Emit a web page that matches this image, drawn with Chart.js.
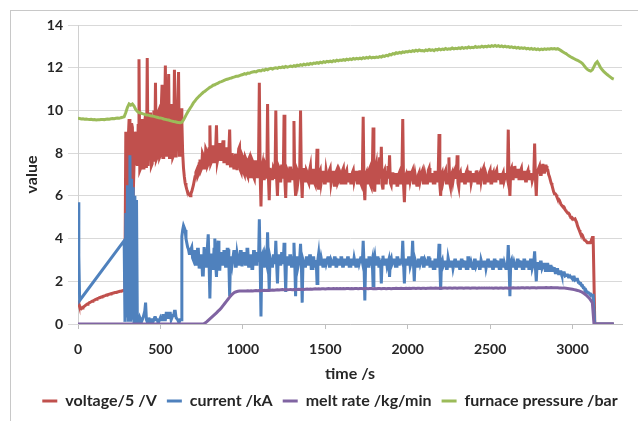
<!DOCTYPE html>
<html>
<head>
<meta charset="utf-8">
<script src="https://cdn.jsdelivr.net/npm/chart.js@4.4.1/dist/chart.umd.min.js"></script>
<style>
html, body { margin: 0; padding: 0; background: #fff; overflow: hidden; }
#frame { position: absolute; left: 10px; top: 10px; width: 700px; height: 500px; border: 1px solid #c8c8c8; }
#furnaceCanvas { position: absolute; left: 0; top: 0; }
</style>
</head>
<body>
<div id="frame"></div>
<canvas id="furnaceCanvas" width="638" height="421"></canvas>
<script>
// voltage and current are logged every 5 s, melt rate and pressure every 10 s
var fastStep = 5;
var slowStep = 10;

var seriesNames = ["voltage/5 /V", "current /kA", "melt rate /kg/min", "furnace pressure /bar"];
var seriesColors = ["#c0504d", "#4f81bd", "#8064a2", "#9bbb59"];
var xTicks = [0, 500, 1000, 1500, 2000, 2500, 3000];
var yTicks = [0, 2, 4, 6, 8, 10, 12, 14];

// one row = 100 s
var voltageData = [
    1.1, 0.95, 0.85, 0.76, 0.72, 0.75, 0.78, 0.81, 0.84, 0.87, 0.9, 0.92, 0.95, 0.97, 1.0, 1.02, 1.04, 1.06, 1.08, 1.1,
    1.12, 1.14, 1.16, 1.18, 1.2, 1.21, 1.23, 1.24, 1.26, 1.27, 1.29, 1.3, 1.32, 1.33, 1.35, 1.36, 1.37, 1.38, 1.4, 1.41,
    1.42, 1.43, 1.44, 1.45, 1.46, 1.47, 1.48, 1.49, 1.5, 1.51, 1.52, 1.53, 1.54, 1.55, 1.56, 1.57, 1.58, 2.5, 9.0, 5.0,
    3.5, 8.7, 9.6, 2.0, 4.0, 9.4, 9.2, 6.0, 7.5, 9.0, 8.8, 8.2, 7.4, 9.3, 12.4, 7.2, 7.3, 9.0, 9.6, 7.3,
    7.4, 9.5, 9.8, 7.3, 12.45, 7.4, 7.4, 9.6, 9.9, 7.4, 7.5, 9.7, 10.0, 7.6, 11.3, 7.7, 7.8, 9.9, 10.0, 7.8,
    7.9, 10.1, 11.2, 7.8, 7.8, 9.8, 12.1, 7.9, 7.9, 10.0, 11.7, 7.8, 7.8, 9.9, 10.3, 7.8, 7.9, 11.9, 9.6, 7.8,
    7.8, 10.0, 11.8, 7.9, 7.9, 10.1, 9.5, 8.0, 7.3, 6.9, 6.6, 6.45, 6.3, 6.2, 6.1, 6.05, 6.0, 6.1, 6.2, 6.35,
    6.5, 6.7, 6.9, 7.1, 7.2, 6.9, 7.0, 7.5, 7.7, 7.2, 7.3, 8.0, 7.9, 7.3, 7.4, 8.2, 8.1, 7.4, 7.5, 8.2,
    9.3, 7.5, 7.6, 8.3, 8.3, 7.6, 7.7, 8.2, 9.3, 7.6, 7.8, 8.4, 8.4, 7.7, 7.7, 8.3, 8.6, 7.6, 7.6, 8.2,
    8.2, 7.5, 7.5, 8.1, 9.1, 7.4, 7.4, 8.0, 8.0, 7.3, 7.3, 7.9, 7.9, 7.2, 7.2, 8.2, 8.3, 7.2, 7.1, 7.9,
    7.8, 7.1, 7.0, 7.8, 7.7, 7.0, 6.9, 7.7, 7.8, 6.9, 6.9, 7.7, 7.6, 6.9, 6.8, 7.6, 7.6, 6.9, 6.9, 7.5,
    11.3, 7.0, 5.5, 7.3, 7.5, 6.8, 6.8, 7.5, 7.4, 6.8, 10.3, 6.9, 5.8, 7.3, 7.3, 6.8, 6.8, 7.3, 7.2, 6.8,
    10.0, 6.8, 6.0, 7.4, 7.3, 6.7, 6.7, 7.4, 7.4, 6.8, 9.8, 6.7, 5.9, 7.3, 7.2, 6.7, 6.7, 7.3, 7.3, 6.8,
    6.8, 7.2, 9.5, 6.7, 6.0, 7.3, 7.2, 6.7, 6.7, 7.3, 10.0, 6.8, 5.9, 7.2, 7.3, 6.7, 6.7, 7.2, 7.1, 6.7,
    6.6, 7.2, 7.4, 6.6, 6.6, 7.2, 7.2, 6.6, 6.5, 7.1, 8.2, 6.6, 6.3, 7.1, 7.2, 6.6, 6.6, 7.1, 7.1, 6.6,
    6.6, 7.2, 7.2, 6.7, 6.7, 7.2, 7.3, 6.6, 6.6, 7.1, 7.1, 6.5, 6.5, 7.1, 7.2, 6.6, 6.7, 7.2, 7.1, 6.6,
    6.6, 7.2, 7.3, 6.6, 6.6, 7.1, 7.2, 6.7, 6.7, 7.0, 7.0, 6.6, 6.6, 7.1, 7.2, 6.7, 6.7, 7.1, 7.1, 6.6,
    6.6, 7.1, 7.2, 6.6, 6.5, 7.0, 9.7, 6.5, 5.8, 7.0, 7.1, 6.6, 6.6, 7.2, 7.3, 6.5, 6.4, 7.0, 9.2, 6.5,
    6.2, 7.3, 7.5, 6.6, 6.6, 7.3, 7.8, 6.8, 8.3, 6.5, 6.3, 7.1, 7.2, 6.6, 6.6, 7.1, 7.4, 6.8, 7.9, 6.6,
    6.5, 7.0, 7.1, 6.6, 6.6, 7.0, 7.0, 6.5, 6.5, 7.0, 7.1, 6.6, 6.6, 7.1, 9.6, 6.5, 5.7, 6.9, 7.0, 6.6,
    6.6, 7.1, 7.1, 6.7, 6.7, 7.1, 7.2, 6.6, 6.6, 7.0, 7.0, 6.5, 6.5, 7.0, 7.1, 6.7, 6.7, 7.1, 7.2, 6.6,
    6.6, 7.0, 7.0, 6.6, 6.6, 7.2, 7.3, 6.7, 6.7, 7.0, 7.0, 6.6, 6.6, 7.1, 7.1, 6.7, 6.7, 7.0, 8.9, 6.5,
    6.0, 7.0, 7.1, 6.7, 6.7, 7.1, 7.2, 6.6, 6.6, 7.0, 7.8, 6.6, 6.4, 7.0, 7.1, 6.7, 6.7, 7.2, 7.3, 6.8,
    7.9, 6.6, 6.4, 7.0, 7.1, 6.7, 6.7, 7.0, 7.0, 6.6, 6.6, 7.1, 7.2, 6.7, 6.7, 7.1, 7.1, 6.6, 6.6, 7.0,
    7.0, 6.7, 6.7, 7.1, 7.2, 6.6, 6.6, 7.0, 7.1, 6.7, 6.7, 7.2, 7.3, 6.6, 6.6, 7.0, 7.0, 6.7, 6.7, 7.1,
    7.2, 6.6, 6.6, 7.0, 7.1, 6.7, 6.7, 7.1, 7.2, 6.8, 6.8, 7.0, 7.0, 6.6, 6.6, 7.0, 7.1, 6.7, 6.7, 7.0,
    7.0, 6.8, 9.1, 6.7, 6.0, 7.2, 7.3, 6.8, 6.8, 7.3, 7.4, 6.9, 6.9, 7.2, 7.2, 6.8, 6.8, 7.2, 7.3, 6.8,
    6.8, 7.1, 7.1, 6.7, 6.7, 7.1, 7.2, 6.8, 6.8, 7.0, 7.0, 6.7, 6.7, 7.0, 8.45, 6.8, 6.0, 7.1, 7.2, 7.3,
    7.4, 7.0, 7.0, 7.4, 7.5, 7.1, 7.1, 7.4, 7.4, 7.2, 7.2, 7.0, 6.9, 6.75, 6.6, 6.5, 6.35, 6.2, 6.1, 6.1,
    6.05, 5.95, 5.85, 5.85, 5.8, 5.7, 5.6, 5.55, 5.5, 5.5, 5.45, 5.35, 5.3, 5.25, 5.2, 5.2, 5.15, 5.05, 5.0, 5.0,
    4.95, 4.9, 4.9, 4.92, 4.92, 4.75, 4.6, 4.5, 4.4, 4.3, 4.2, 4.2, 4.15, 4.05, 3.95, 3.92, 3.9, 3.85, 3.8, 3.8,
    3.8, 3.82, 3.82, 3.95, 4.05, 4.05, 4.05, 0, 0, 0, 0, 0, 0, 0, 0, 0, 0, 0, 0, 0,
    0, 0, 0, 0, 0, 0, 0, 0, 0, 0, 0
];

// current logger dropped out between 15 s and 275 s
var currentData = [
    5.7, 3.2, 1.1, null, null, null, null, null, null, null, null, null, null, null, null, null, null, null, null, null,
    null, null, null, null, null, null, null, null, null, null, null, null, null, null, null, null, null, null, null, null,
    null, null, null, null, null, null, null, null, null, null, null, null, null, null, null, null, 3.9, 0.1, 5.2, 0.3,
    6.5, 0.1, 6.2, 7.9, 0.1, 6.8, 0.2, 6.4, 0.1, 6.0, 0.2, 5.8, 0.1, 0.2, 0.1, 0.3, 0.2, 0.1, 0.2, 0.3,
    0.3, 0.6, 1.0, 0.2, 0.1, 0.2, 0.3, 0.1, 0.1, 0.2, 0.2, 0.1, 0.1, 0.3, 0.3, 0.2, 0.2, 0.1, 0.1, 0.2,
    0.3, 0.2, 0.2, 0.4, 0.4, 0.2, 0.2, 0.5, 0.5, 0.3, 0.3, 0.5, 0.5, 0.2, 0.2, 0.4, 0.4, 0.6, 0.6, 0.3,
    0.3, 0.2, 0.1, 0.1, 0.2, 0.2, 4.1, 4.4, 4.6, 4.5, 4.4, 4.0, 3.8, 3.6, 3.5, 3.3, 3.3, 3.5, 3.6, 3.1,
    3.0, 3.4, 3.4, 2.8, 2.8, 3.5, 3.5, 2.6, 2.6, 3.2, 3.2, 2.3, 2.3, 3.6, 3.6, 2.7, 2.7, 3.6, 4.2, 2.9,
    1.2, 3.0, 3.3, 2.6, 2.6, 3.5, 4.0, 2.8, 2.2, 3.2, 3.9, 2.8, 2.5, 3.3, 3.3, 2.8, 2.8, 3.4, 3.4, 2.7,
    2.7, 3.5, 3.5, 2.9, 1.3, 3.1, 3.1, 2.8, 2.8, 3.4, 3.4, 2.7, 2.7, 3.3, 3.3, 2.8, 2.8, 3.4, 3.4, 2.7,
    2.7, 3.3, 3.3, 2.8, 2.8, 3.5, 3.5, 2.7, 2.7, 3.2, 3.2, 2.6, 2.6, 3.4, 3.4, 2.8, 2.8, 3.3, 3.3, 2.9,
    4.9, 2.8, 0.35, 3.2, 3.3, 2.7, 2.7, 3.2, 3.2, 2.8, 4.3, 2.8, 1.6, 3.1, 3.1, 2.7, 2.7, 3.2, 3.2, 2.8,
    3.9, 2.8, 1.9, 3.2, 3.2, 2.8, 2.8, 3.3, 3.3, 2.8, 3.8, 2.8, 1.5, 3.1, 3.1, 2.8, 2.8, 3.2, 3.2, 2.7,
    2.7, 3.1, 3.8, 2.8, 1.3, 3.1, 3.1, 2.7, 2.7, 3.1, 3.75, 2.8, 1.0, 3.0, 3.0, 2.7, 2.7, 3.1, 3.1, 2.8,
    2.8, 3.2, 3.2, 2.6, 2.6, 3.1, 3.1, 2.7, 2.7, 3.0, 1.9, 3.0, 3.3, 2.8, 2.8, 3.1, 3.1, 2.7, 2.7, 3.0,
    3.0, 2.8, 2.8, 3.1, 3.1, 2.7, 2.7, 3.0, 3.0, 2.8, 2.8, 3.1, 3.1, 2.7, 2.7, 3.0, 3.0, 2.8, 2.8, 3.1,
    3.1, 2.7, 2.7, 3.0, 3.0, 2.8, 2.8, 3.1, 3.1, 2.7, 2.7, 3.0, 3.0, 2.8, 2.8, 3.1, 3.1, 2.7, 2.7, 3.0,
    3.0, 2.8, 2.8, 3.1, 3.1, 2.9, 3.9, 2.8, 1.1, 3.0, 3.0, 2.7, 2.7, 3.1, 3.1, 2.8, 2.8, 3.0, 1.8, 3.0,
    3.2, 2.8, 2.8, 3.1, 3.1, 2.7, 2.7, 3.0, 1.9, 3.0, 3.2, 2.8, 2.8, 3.0, 3.0, 2.7, 2.7, 3.0, 2.2, 3.0,
    3.1, 2.8, 2.8, 3.0, 3.0, 2.7, 2.7, 3.1, 3.1, 2.8, 2.8, 3.0, 3.0, 2.9, 3.9, 2.8, 1.9, 3.0, 3.0, 2.8,
    2.8, 3.1, 3.1, 2.7, 2.7, 3.0, 3.9, 2.8, 2.0, 3.0, 3.0, 2.7, 2.7, 3.0, 3.0, 2.8, 2.8, 3.1, 3.1, 2.7,
    2.7, 3.0, 3.0, 2.8, 2.8, 3.1, 3.1, 2.7, 2.7, 2.9, 2.9, 2.6, 2.6, 3.0, 3.0, 2.7, 2.7, 2.9, 3.75, 2.7,
    1.6, 2.9, 3.0, 2.7, 2.7, 2.9, 2.9, 2.6, 2.6, 3.1, 3.1, 2.7, 2.7, 2.9, 2.9, 2.6, 2.6, 3.0, 3.0, 2.7,
    2.7, 2.9, 2.9, 2.6, 2.6, 3.0, 3.0, 2.7, 2.7, 2.9, 2.9, 2.6, 2.6, 3.1, 3.1, 2.7, 2.7, 2.9, 2.9, 2.6,
    2.6, 3.0, 3.0, 2.7, 2.7, 2.9, 2.9, 2.6, 2.6, 3.0, 3.0, 2.7, 2.7, 2.9, 2.9, 2.6, 2.6, 3.0, 3.0, 2.7,
    2.7, 2.9, 2.9, 2.6, 2.6, 3.0, 3.0, 2.7, 2.7, 2.9, 2.9, 2.6, 2.6, 3.0, 3.0, 2.7, 2.7, 2.9, 2.9, 2.6,
    2.6, 2.8, 3.7, 2.7, 1.3, 2.9, 3.0, 2.7, 2.7, 2.9, 2.9, 2.6, 2.6, 3.0, 3.0, 2.7, 2.7, 2.9, 2.9, 2.6,
    2.6, 3.0, 3.0, 2.7, 2.7, 2.9, 2.9, 2.6, 2.6, 3.0, 3.0, 2.6, 2.6, 2.9, 3.4, 2.6, 2.0, 2.8, 2.9, 2.6,
    2.6, 2.9, 2.9, 2.6, 2.6, 2.8, 2.8, 2.5, 2.5, 2.8, 2.8, 2.5, 2.5, 2.7, 2.7, 2.5, 2.5, 2.6, 2.6, 2.4,
    2.4, 2.55, 2.55, 2.35, 2.35, 2.45, 2.45, 2.3, 2.3, 2.4, 2.4, 2.25, 2.25, 2.3, 2.3, 2.2, 2.2, 2.25, 2.25, 2.15,
    2.1, 2.2, 2.2, 2.05, 2.05, 2.1, 2.1, 1.95, 1.95, 1.9, 1.9, 1.8, 1.8, 1.7, 1.7, 1.6, 1.6, 1.5, 1.5, 1.45,
    1.45, 1.4, 1.4, 1.35, 1.35, 1.35, 1.35, 0, 0, 0, 0, 0, 0, 0, 0, 0, 0, 0, 0, 0,
    0, 0, 0, 0, 0, 0, 0, 0, 0, 0, 0
];

// one row = 100 s
var meltRateData = [
    0, 0, 0, 0, 0, 0, 0, 0, 0, 0,
    0, 0, 0, 0, 0, 0, 0, 0, 0, 0,
    0, 0, 0, 0, 0, 0, 0, 0, 0, 0,
    0, 0, 0, 0, 0, 0, 0, 0, 0, 0,
    0, 0, 0, 0, 0, 0, 0, 0, 0, 0,
    0, 0, 0, 0, 0, 0, 0, 0, 0, 0,
    0, 0, 0, 0, 0, 0, 0, 0, 0, 0,
    0, 0, 0, 0, 0, 0, 0, 0.04, 0.1, 0.17,
    0.24, 0.31, 0.38, 0.45, 0.52, 0.6, 0.67, 0.76, 0.86, 0.96,
    1.06, 1.16, 1.26, 1.35, 1.42, 1.48, 1.51, 1.53, 1.54, 1.54,
    1.55, 1.54, 1.55, 1.56, 1.55, 1.56, 1.55, 1.56, 1.57, 1.56,
    1.57, 1.56, 1.57, 1.58, 1.57, 1.58, 1.57, 1.58, 1.59, 1.58,
    1.59, 1.6, 1.59, 1.6, 1.61, 1.6, 1.61, 1.6, 1.61, 1.62,
    1.61, 1.62, 1.61, 1.62, 1.63, 1.62, 1.63, 1.62, 1.63, 1.64,
    1.63, 1.64, 1.63, 1.64, 1.65, 1.64, 1.65, 1.64, 1.65, 1.65,
    1.64, 1.65, 1.66, 1.65, 1.65, 1.66, 1.65, 1.66, 1.65, 1.66,
    1.65, 1.66, 1.65, 1.66, 1.66, 1.65, 1.66, 1.65, 1.66, 1.66,
    1.65, 1.66, 1.66, 1.65, 1.66, 1.66, 1.65, 1.66, 1.66, 1.65,
    1.66, 1.65, 1.66, 1.66, 1.65, 1.66, 1.66, 1.65, 1.66, 1.66,
    1.65, 1.66, 1.66, 1.67, 1.66, 1.66, 1.67, 1.66, 1.66, 1.67,
    1.66, 1.67, 1.66, 1.67, 1.67, 1.66, 1.67, 1.67, 1.66, 1.67,
    1.67, 1.66, 1.67, 1.67, 1.68, 1.67, 1.67, 1.68, 1.67, 1.67,
    1.68, 1.67, 1.68, 1.68, 1.67, 1.68, 1.68, 1.67, 1.68, 1.68,
    1.67, 1.68, 1.68, 1.68, 1.67, 1.68, 1.68, 1.68, 1.67, 1.68,
    1.68, 1.68, 1.67, 1.68, 1.68, 1.69, 1.68, 1.68, 1.69, 1.68,
    1.68, 1.69, 1.68, 1.69, 1.69, 1.68, 1.69, 1.69, 1.68, 1.69,
    1.69, 1.68, 1.69, 1.69, 1.7, 1.69, 1.69, 1.7, 1.69, 1.7,
    1.7, 1.69, 1.7, 1.7, 1.69, 1.7, 1.7, 1.7, 1.69, 1.7,
    1.7, 1.7, 1.7, 1.7, 1.71, 1.7, 1.7, 1.71, 1.7, 1.7,
    1.7, 1.7, 1.69, 1.69, 1.68, 1.68, 1.67, 1.66, 1.65, 1.64,
    1.63, 1.61, 1.59, 1.57, 1.55, 1.52, 1.48, 1.43, 1.37, 1.3,
    1.22, 1.12, 1.0, 0, 0, 0, 0, 0, 0, 0,
    0, 0, 0, 0, 0, 0
];

var pressureData = [
    9.63, 9.62, 9.6, 9.61, 9.59, 9.6, 9.58, 9.57, 9.58, 9.56,
    9.57, 9.55, 9.56, 9.56, 9.57, 9.58, 9.57, 9.59, 9.6, 9.59,
    9.61, 9.62, 9.61, 9.63, 9.64, 9.63, 9.66, 9.68, 9.7, 9.9,
    10.15, 10.3, 10.25, 10.3, 10.2, 10.05, 9.95, 9.9, 9.88, 9.85,
    9.83, 9.8, 9.79, 9.77, 9.75, 9.74, 9.72, 9.7, 9.68, 9.66,
    9.65, 9.63, 9.6, 9.58, 9.56, 9.55, 9.52, 9.5, 9.48, 9.47,
    9.45, 9.43, 9.42, 9.45, 9.55, 9.7, 9.85, 9.98, 10.1, 10.22,
    10.35, 10.45, 10.55, 10.63, 10.7, 10.78, 10.85, 10.9, 10.96, 11.02,
    11.08, 11.12, 11.18, 11.2, 11.25, 11.28, 11.33, 11.35, 11.38, 11.42,
    11.45, 11.47, 11.5, 11.52, 11.55, 11.57, 11.6, 11.6, 11.63, 11.66,
    11.68, 11.72, 11.7, 11.75, 11.74, 11.78, 11.8, 11.82, 11.8, 11.85,
    11.87, 11.85, 11.9, 11.88, 11.93, 11.9, 11.95, 11.97, 11.94, 11.98,
    12.0, 11.97, 12.02, 12.0, 12.04, 12.01, 12.06, 12.03, 12.05, 12.08,
    12.05, 12.1, 12.07, 12.12, 12.1, 12.14, 12.11, 12.16, 12.13, 12.18,
    12.15, 12.2, 12.17, 12.22, 12.2, 12.24, 12.21, 12.26, 12.23, 12.28,
    12.25, 12.3, 12.27, 12.31, 12.28, 12.33, 12.3, 12.35, 12.32, 12.36,
    12.34, 12.38, 12.35, 12.4, 12.37, 12.41, 12.38, 12.43, 12.4, 12.44,
    12.41, 12.45, 12.42, 12.47, 12.44, 12.48, 12.45, 12.5, 12.46, 12.49,
    12.47, 12.5, 12.48, 12.52, 12.5, 12.55, 12.53, 12.58, 12.56, 12.62,
    12.6, 12.66, 12.64, 12.7, 12.67, 12.72, 12.69, 12.74, 12.72, 12.76,
    12.74, 12.78, 12.75, 12.8, 12.77, 12.82, 12.78, 12.83, 12.8, 12.81,
    12.78, 12.83, 12.8, 12.85, 12.81, 12.84, 12.8, 12.86, 12.83, 12.88,
    12.84, 12.87, 12.85, 12.9, 12.86, 12.89, 12.87, 12.92, 12.88, 12.91,
    12.89, 12.93, 12.9, 12.95, 12.91, 12.94, 12.92, 12.97, 12.93, 12.96,
    12.94, 12.99, 12.95, 12.98, 12.96, 13.01, 12.97, 13.0, 12.98, 13.02,
    12.99, 13.03, 13.0, 13.04, 13.0, 13.03, 12.99, 13.02, 12.98, 13.01,
    12.97, 12.99, 12.95, 12.98, 12.94, 12.96, 12.92, 12.95, 12.91, 12.93,
    12.9, 12.93, 12.88, 12.91, 12.87, 12.9, 12.86, 12.89, 12.85, 12.88,
    12.84, 12.87, 12.85, 12.88, 12.86, 12.89, 12.87, 12.9, 12.88, 12.9,
    12.87, 12.89, 12.85, 12.8, 12.75, 12.7, 12.66, 12.6, 12.55, 12.5,
    12.46, 12.42, 12.38, 12.35, 12.3, 12.26, 12.2, 12.1, 12.0, 11.92,
    11.87, 11.84, 11.9, 12.05, 12.2, 12.28, 12.15, 12.0, 11.9, 11.82,
    11.75, 11.68, 11.62, 11.56, 11.5, 11.47
];

function toPoints(values, step){
    return values.map(function(v, i){
        return { x: i * step, y: v };
    });
}

// nudge the legend row a little to the right of the canvas centre
var legendShift = {
    id: "legendShift",
    afterLayout: function(chart){
        chart.legend.left += 14;
        chart.legend.right += 14;
    }
};

function drawChart(){
    var ctx = document.getElementById("furnaceCanvas");
    var allValues = [voltageData, currentData, meltRateData, pressureData];
    var allSteps = [fastStep, fastStep, slowStep, slowStep];

    Chart.defaults.font.family = "Lato, 'Open Sans', sans-serif";
    Chart.defaults.font.size = 14;
    Chart.defaults.font.weight = "bold";
    Chart.defaults.color = "#262626";

    // red at the bottom, green on top
    var datasets = seriesNames.map(function(name, k){
        return {
            label: name,
            data: toPoints(allValues[k], allSteps[k]),
            borderColor: seriesColors[k],
            backgroundColor: seriesColors[k],
            borderWidth: 3,
            pointRadius: 0,
            tension: 0,
            spanGaps: true,
            order: seriesNames.length - k
        };
    });

    new Chart(ctx, {
        type: "line",
        data: { datasets: datasets },
        plugins: [legendShift],
        options: {
            responsive: false,
            animation: false,
            layout: { padding: { left: 10, right: 16, top: 25, bottom: 2 } },
            plugins: {
                tooltip: { enabled: false },
                legend: {
                    display: true,
                    position: "bottom",
                    labels: {
                        font: { size: 16 },
                        boxWidth: 15,
                        boxHeight: 3,
                        padding: 10,
                        sort: function(a, b){ return a.datasetIndex - b.datasetIndex; },
                        generateLabels: function(chart){
                            var items = Chart.defaults.plugins.legend.labels.generateLabels(chart);
                            items.forEach(function(it){ it.lineWidth = 0; });
                            return items;
                        }
                    }
                }
            },
            scales: {
                x: {
                    type: "linear",
                    min: 0,
                    max: 3300,
                    afterBuildTicks: function(scale){
                        scale.ticks = xTicks.map(function(v){ return { value: v }; });
                    },
                    afterFit: function(scale){ scale.height = 59; },
                    ticks: {
                        padding: 12,
                        maxRotation: 0,
                        callback: function(value){ return String(value); }
                    },
                    grid: { drawOnChartArea: false, drawTicks: true, tickLength: 5, color: "#bfbfbf" },
                    border: { color: "#bfbfbf" },
                    title: { display: true, text: "time /s", font: { size: 16 }, padding: { top: 3, bottom: 0 } }
                },
                y: {
                    min: 0,
                    max: 14,
                    afterBuildTicks: function(scale){
                        scale.ticks = yTicks.map(function(v){ return { value: v }; });
                    },
                    afterFit: function(scale){ scale.width = 68; },
                    ticks: { padding: 5 },
                    grid: { color: "#d9d9d9", tickLength: 10 },
                    border: { color: "#d0d0d0" },
                    title: { display: true, text: "value", font: { size: 16 }, padding: { top: 12, bottom: 0 } }
                }
            }
        }
    });
}

drawChart();
</script>
</body>
</html>
